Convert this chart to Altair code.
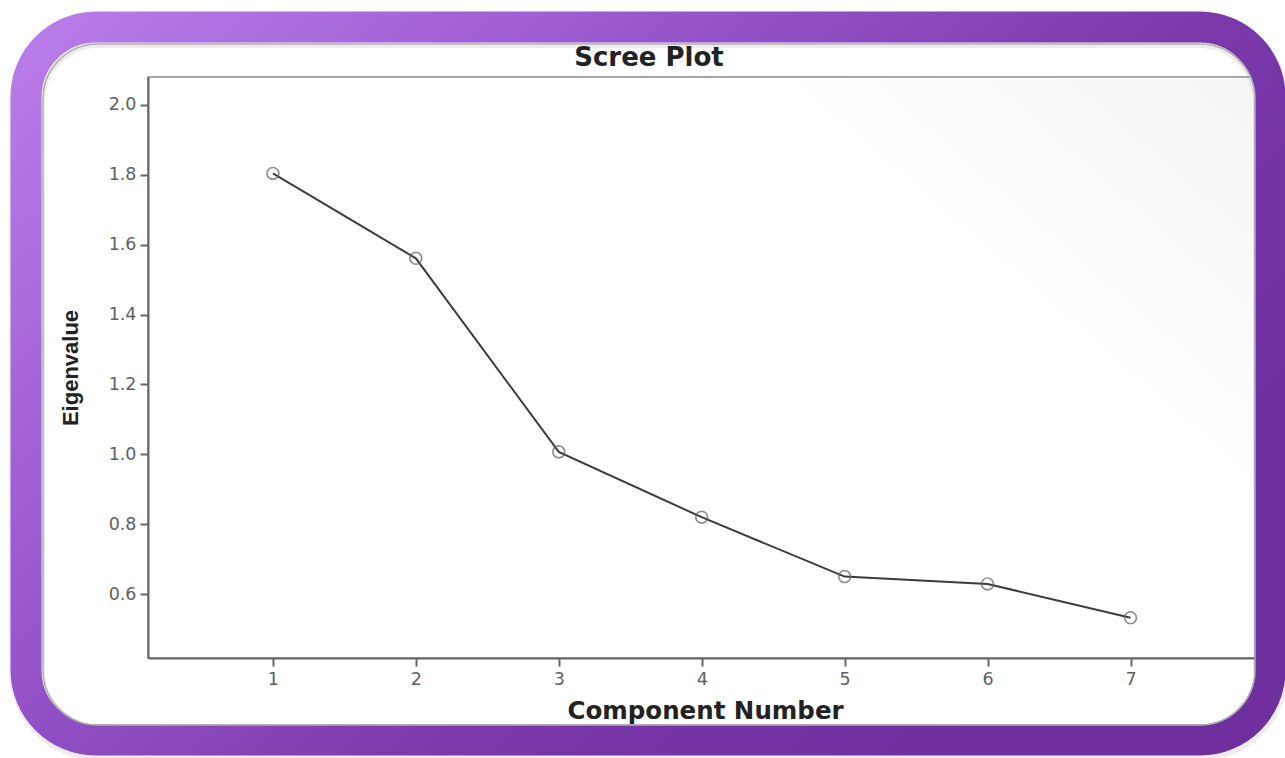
import altair as alt
import pandas as pd

# Scree plot: eigenvalues of the seven extracted components
components = [1, 2, 3, 4, 5, 6, 7]
eigenvalues = [1.804, 1.561, 1.007, 0.820, 0.650, 0.629, 0.532]
chart_title = "Scree Plot"

df = pd.DataFrame({"Component": components, "Eigenvalue": eigenvalues})
one = pd.DataFrame({"label": [chart_title]})

W, H = 1114, 581
PAD = {"left": 148, "top": 77, "right": 1285 - 148 - W, "bottom": 758 - 77 - H}

x_scale = alt.Scale(domain=[0.126, 7.92], nice=False, zero=False)
y_scale = alt.Scale(domain=[0.417, 2.08], nice=False, zero=False)

x_axis = alt.Axis(
    values=components, format="d", title="Component Number",
    titleFont="DejaVu Sans", titleFontSize=24.5, titleFontWeight="bold",
    titleColor="#222", titlePadding=12,
    labelFont="DejaVu Sans", labelFontSize=17.5, labelColor="#606060",
    labelPadding=4, tickSize=8, tickColor="#666", tickWidth=2,
    domainColor="#666", domainWidth=2, grid=False,
)
y_axis = alt.Axis(
    values=[0.6, 0.8, 1.0, 1.2, 1.4, 1.6, 1.8, 2.0], format=".1f",
    title="Eigenvalue", titleFont="Liberation Sans", titleFontSize=22,
    titleFontWeight="bold", titleColor="#222", titlePadding=26,
    labelFont="DejaVu Sans", labelFontSize=17.5, labelColor="#606060",
    labelPadding=4, tickSize=8, tickColor="#666", tickWidth=2,
    domainColor="#666", domainWidth=2, grid=False,
)

# faint grey haze in the upper-right of the plot area
haze = alt.Chart(one).mark_rect(
    fill=alt.Gradient(
        gradient="linear", x1=0, y1=1, x2=1, y2=0,
        stops=[alt.GradientStop(color="#ffffff", offset=0.5),
               alt.GradientStop(color="#f4f4f4", offset=1.0)],
    )
).encode(x=alt.value(620), x2=alt.value(W), y=alt.value(2), y2=alt.value(430))

line = alt.Chart(df).mark_line(color="#3c3c3c", strokeWidth=2).encode(
    x=alt.X("Component:Q", scale=x_scale, axis=x_axis),
    y=alt.Y("Eigenvalue:Q", scale=y_scale, axis=y_axis),
)
points = alt.Chart(df).mark_point(
    shape="circle", filled=False, color="#606060", size=140, strokeWidth=1.7
).encode(
    x=alt.X("Component:Q", scale=x_scale),
    y=alt.Y("Eigenvalue:Q", scale=y_scale),
)

title = alt.Chart(one).mark_text(
    font="DejaVu Sans", fontSize=26, fontWeight="bold", color="#222",
    align="center", baseline="alphabetic",
).encode(text="label:N", x=alt.value(649 - 148), y=alt.value(66 - 77))

# purple rounded frame around the whole figure
fx, fx2 = 26 - 148, 1270 - 148
fy, fy2 = 27 - 77, 740 - 77
shadow = alt.Chart(one).mark_rect(
    fill="transparent", stroke="#000000", strokeOpacity=0.07,
    strokeWidth=36, cornerRadius=72,
).encode(x=alt.value(fx + 1), x2=alt.value(fx2 + 1),
         y=alt.value(fy + 3), y2=alt.value(fy2 + 3))
frame = alt.Chart(one).mark_rect(
    fill="transparent", strokeWidth=31, cornerRadius=70,
    stroke=alt.Gradient(
        gradient="linear", x1=0, y1=0, x2=1, y2=0.6,
        stops=[alt.GradientStop(color="#b97de9", offset=0.0),
               alt.GradientStop(color="#9a58cf", offset=0.35),
               alt.GradientStop(color="#7a38aa", offset=0.7),
               alt.GradientStop(color="#6f2f9f", offset=1.0)],
    ),
).encode(x=alt.value(fx), x2=alt.value(fx2), y=alt.value(fy), y2=alt.value(fy2))
inner_edge = alt.Chart(one).mark_rect(
    fill="transparent", stroke="#b0b0b0", strokeWidth=1.5, cornerRadius=55,
).encode(x=alt.value(43 - 148), x2=alt.value(1255 - 148),
         y=alt.value(44 - 77), y2=alt.value(725 - 77))

chart = alt.layer(haze, line, points, title, shadow, frame, inner_edge).properties(
    width=W, height=H,
    autosize=alt.AutoSizeParams(type="none"),
    padding=PAD,
    background="#ffffff",
).configure_view(stroke="#8a8a8a", strokeWidth=1.5)

chart.save("out.html", embed_options={"renderer": "svg", "actions": False})
